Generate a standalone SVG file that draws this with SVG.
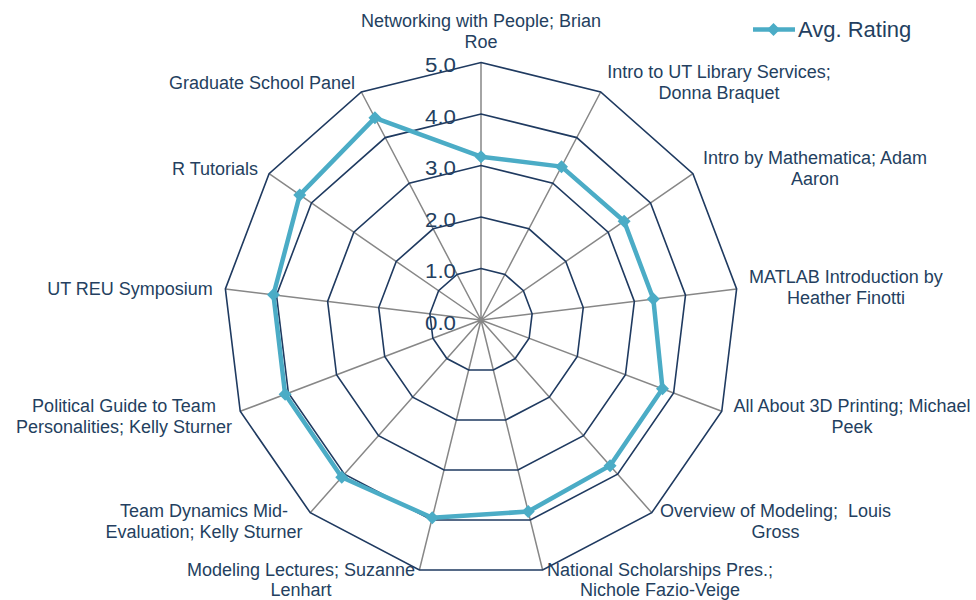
<svg xmlns="http://www.w3.org/2000/svg" width="976" height="600" viewBox="0 0 976 600">
<defs>
<style>
.spoke{stroke:#878787;stroke-width:1.5;fill:none}
.ring{stroke:#1F3A60;stroke-width:1.6;fill:none;stroke-linejoin:miter}
.series{stroke:#4BACC6;stroke-width:4.5;fill:none;stroke-linejoin:round}
.lbl{font-family:"Liberation Sans",Arial,sans-serif;font-size:18px;fill:#243F60;text-anchor:middle}
.val{font-family:"Liberation Sans",Arial,sans-serif;font-size:20px;fill:#243F60;text-anchor:end}
.leg{font-family:"Liberation Sans",Arial,sans-serif;font-size:22px;fill:#243F60}
</style>
<path id="dia" d="M0,-6.5 L6.5,0 L0,6.5 L-6.5,0 Z" fill="#4BACC6"/>
</defs>
<rect width="976" height="600" fill="#FFFFFF"/>

<g id="spokes">
<path class="spoke" d="M481,320 L481,62.5 M481,320 L600.67,91.99 M481,320 L692.92,173.72 M481,320 L736.62,288.96 M481,320 L721.77,411.31 M481,320 L651.75,512.74 M481,320 L542.62,570.02 M481,320 L419.38,570.02 M481,320 L310.25,512.74 M481,320 L240.23,411.31 M481,320 L225.38,288.96 M481,320 L269.08,173.72 M481,320 L361.33,91.99"/>
</g>

<g id="rings">
<polygon class="ring" points="481,268.5 504.93,274.4 523.38,290.75 532.12,313.79 529.15,338.26 515.15,358.55 493.32,370 468.68,370 446.85,358.55 432.85,338.26 429.88,313.79 438.62,290.75 457.07,274.4"/>
<polygon class="ring" points="481,217 528.87,228.8 565.77,261.49 583.25,307.58 577.31,356.52 549.3,397.1 505.65,420.01 456.35,420.01 412.7,397.1 384.69,356.52 378.75,307.58 396.23,261.49 433.13,228.8"/>
<polygon class="ring" points="481,165.5 552.8,183.2 608.15,232.23 634.37,301.38 625.46,374.79 583.45,435.64 517.97,470.01 444.03,470.01 378.55,435.64 336.54,374.79 327.63,301.38 353.85,232.23 409.2,183.2"/>
<polygon class="ring" points="481,114 576.73,137.6 650.53,202.98 685.5,295.17 673.61,393.05 617.6,474.19 530.3,520.01 431.7,520.01 344.4,474.19 288.39,393.05 276.5,295.17 311.47,202.98 385.27,137.6"/>
<polygon class="ring" points="481,62.5 600.67,91.99 692.92,173.72 736.62,288.96 721.77,411.31 651.75,512.74 542.62,570.02 419.38,570.02 310.25,512.74 240.23,411.31 225.38,288.96 269.08,173.72 361.33,91.99"/>
</g>

<g id="axis-values">
<text class="val" x="456" y="72" textLength="31" lengthAdjust="spacingAndGlyphs">5.0</text>
<text class="val" x="456" y="123.5" textLength="31" lengthAdjust="spacingAndGlyphs">4.0</text>
<text class="val" x="456" y="175" textLength="31" lengthAdjust="spacingAndGlyphs">3.0</text>
<text class="val" x="456" y="226.5" textLength="31" lengthAdjust="spacingAndGlyphs">2.0</text>
<text class="val" x="456" y="278" textLength="31" lengthAdjust="spacingAndGlyphs">1.0</text>
<text class="val" x="456" y="329.5" textLength="31" lengthAdjust="spacingAndGlyphs">0.0</text>
</g>

<g id="series-avg-rating">
<polygon class="series" points="481,156.7 561.49,166.64 624.12,221.22 653.33,299.07 662.49,388.83 610.04,465.66 528.22,511.57 432.25,517.78 341.74,477.19 285.11,394.29 273.43,294.8 299.78,194.91 374.91,117.85"/>
<use href="#dia" x="481" y="156.7"/>
<use href="#dia" x="561.49" y="166.64"/>
<use href="#dia" x="624.12" y="221.22"/>
<use href="#dia" x="653.33" y="299.07"/>
<use href="#dia" x="662.49" y="388.83"/>
<use href="#dia" x="610.04" y="465.66"/>
<use href="#dia" x="528.22" y="511.57"/>
<use href="#dia" x="432.25" y="517.78"/>
<use href="#dia" x="341.74" y="477.19"/>
<use href="#dia" x="285.11" y="394.29"/>
<use href="#dia" x="273.43" y="294.8"/>
<use href="#dia" x="299.78" y="194.91"/>
<use href="#dia" x="374.91" y="117.85"/>
</g>

<g id="cat-networking"><text class="lbl" x="481" y="27">Networking with People; Brian</text><text class="lbl" x="481" y="48">Roe</text></g>
<g id="cat-library"><text class="lbl" x="719" y="78">Intro to UT Library Services;</text><text class="lbl" x="719" y="99">Donna Braquet</text></g>
<g id="cat-mathematica"><text class="lbl" x="815" y="164">Intro by Mathematica; Adam</text><text class="lbl" x="815" y="185">Aaron</text></g>
<g id="cat-matlab"><text class="lbl" x="846" y="283">MATLAB Introduction by</text><text class="lbl" x="846" y="304">Heather Finotti</text></g>
<g id="cat-3dprinting"><text class="lbl" x="852" y="412">All About 3D Printing; Michael</text><text class="lbl" x="852" y="433">Peek</text></g>
<g id="cat-overview"><text class="lbl" x="775.5" y="517" xml:space="preserve">Overview of Modeling;  Louis</text><text class="lbl" x="775.5" y="538">Gross</text></g>
<g id="cat-scholarships"><text class="lbl" x="660" y="576">National Scholarships Pres.;</text><text class="lbl" x="660" y="596">Nichole Fazio-Veige</text></g>
<g id="cat-modeling-lectures"><text class="lbl" x="301" y="576">Modeling Lectures; Suzanne</text><text class="lbl" x="301" y="596">Lenhart</text></g>
<g id="cat-team-dynamics"><text class="lbl" x="204" y="517">Team Dynamics Mid-</text><text class="lbl" x="204" y="538">Evaluation; Kelly Sturner</text></g>
<g id="cat-political"><text class="lbl" x="124" y="412">Political Guide to Team</text><text class="lbl" x="124" y="433">Personalities; Kelly Sturner</text></g>
<g id="cat-symposium"><text class="lbl" x="130" y="295">UT REU Symposium</text></g>
<g id="cat-r-tutorials"><text class="lbl" x="215" y="175">R Tutorials</text></g>
<g id="cat-grad-panel"><text class="lbl" x="262" y="89">Graduate School Panel</text></g>

<g id="legend">
<line x1="753" y1="29.5" x2="795" y2="29.5" stroke="#4BACC6" stroke-width="4.5"/>
<use href="#dia" x="773.5" y="29.5"/>
<text class="leg" x="798" y="37">Avg. Rating</text>
</g>
</svg>
